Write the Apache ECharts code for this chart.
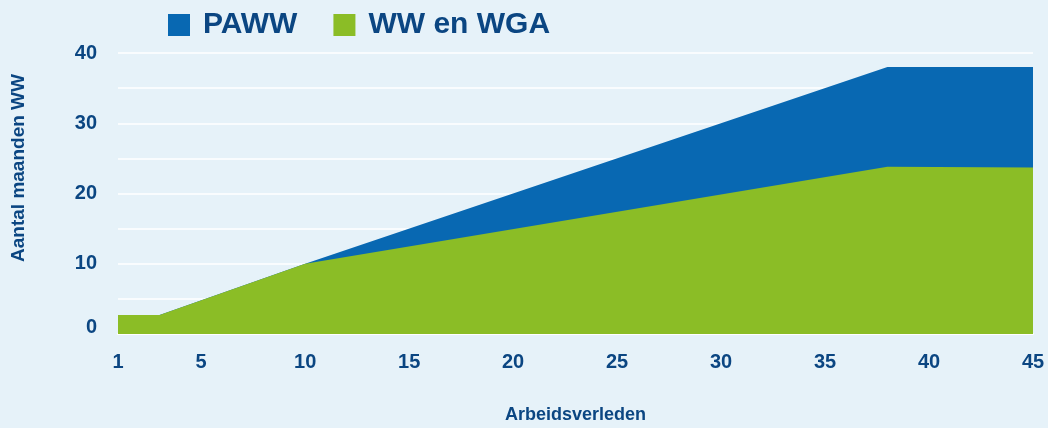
<!DOCTYPE html>
<html>
<head>
<meta charset="utf-8">
<script src="https://cdn.jsdelivr.net/npm/echarts@6/dist/echarts.min.js"></script>
<style>
  html, body { margin: 0; padding: 0; background: #e6f2f9; }
  #chart { width: 1048px; height: 428px; }
</style>
</head>
<body>
<div id="chart"></div>
<script>
const xYears = [1, 3, 10, 38, 45];
const pawwTotal = [2.7, 2.7, 10, 38, 38];
const wwWga = [2.7, 2.7, 10, 23.8, 23.7];
const xTickLabels = [1, 5, 10, 15, 20, 25, 30, 35, 40, 45];
const yTickLabels = [0, 10, 20, 30, 40];

const textColor = '#0b4682';
const font = "'Liberation Sans', Arial, sans-serif";

const chart = echarts.init(document.getElementById('chart'));
chart.setOption({
  backgroundColor: '#e6f2f9',
  animation: false,
  textStyle: { fontFamily: font },
  legend: {
    top: 10,
    left: 168,
    padding: 0,
    itemWidth: 22,
    itemHeight: 22,
    itemGap: 36,
    icon: 'rect',
    textStyle: { fontSize: 30, fontWeight: 'bold', color: textColor, fontFamily: font, padding: [3, 0, 0, 8] },
    data: ['PAWW', 'WW en WGA']
  },
  grid: { left: 118, right: 15, top: 53, bottom: 94, outerBoundsMode: 'none', containLabel: false },
  xAxis: {
    type: 'value',
    min: 1,
    max: 45,
    name: 'Arbeidsverleden',
    nameLocation: 'middle',
    nameGap: 72,
    nameTextStyle: { fontSize: 18, fontWeight: 'bold', color: textColor },
    axisLine: { show: true, lineStyle: { color: '#ffffff', width: 2 } },
    axisTick: { show: false },
    splitLine: { show: false },
    axisLabel: {
      customValues: xTickLabels,
      margin: 18,
      fontSize: 20,
      fontWeight: 'bold',
      color: textColor
    }
  },
  yAxis: {
    type: 'value',
    min: 0,
    max: 40,
    interval: 5,
    axisLine: { show: false },
    axisTick: { show: false },
    splitLine: { show: true, lineStyle: { color: '#ffffff', width: 1.5 } },
    axisLabel: {
      margin: 21,
      fontSize: 20,
      fontWeight: 'bold',
      color: textColor,
      formatter: function (v) {
        if (yTickLabels.indexOf(v) < 0) return '';
        if (v === 0) return '{z|0}';
        return String(v);
      },
      rich: { z: { fontSize: 20, fontWeight: 'bold', color: textColor, padding: [0, 0, 13, 0] } }
    }
  },
  graphic: [{
    type: 'text',
    x: 19,
    y: 168,
    rotation: Math.PI / 2,
    style: {
      text: 'Aantal maanden WW',
      fill: textColor,
      align: 'center',
      verticalAlign: 'middle',
      font: "bold 19px 'Liberation Sans', Arial, sans-serif"
    }
  }],
  series: [
    {
      name: 'PAWW',
      type: 'line',
      data: xYears.map((x, i) => [x, pawwTotal[i]]),
      symbol: 'none',
      lineStyle: { width: 0 },
      itemStyle: { color: '#0868b2' },
      areaStyle: { color: '#0868b2', opacity: 1 },
      z: 2
    },
    {
      name: 'WW en WGA',
      type: 'line',
      data: xYears.map((x, i) => [x, wwWga[i]]),
      symbol: 'none',
      lineStyle: { width: 0 },
      itemStyle: { color: '#8bbd26' },
      areaStyle: { color: '#8bbd26', opacity: 1 },
      z: 3
    }
  ]
});
</script>
</body>
</html>
